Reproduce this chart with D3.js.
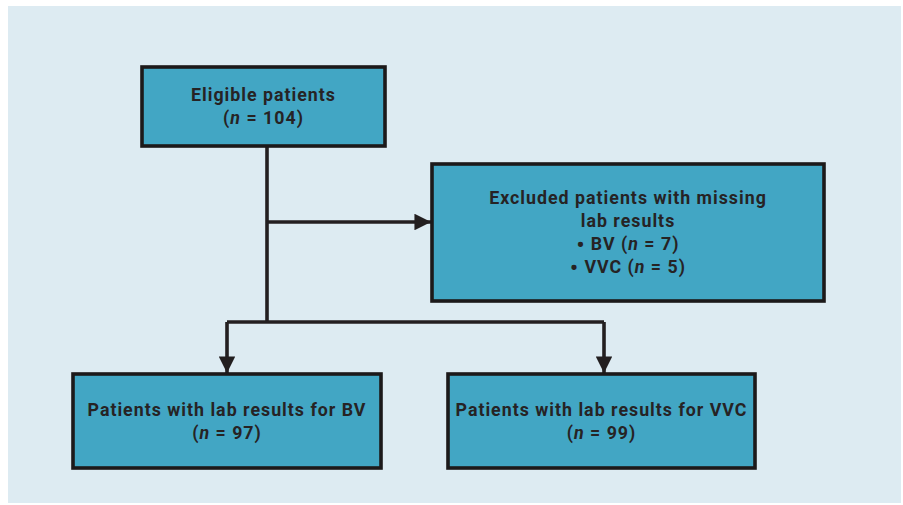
<!DOCTYPE html>
<html>
<head>
<meta charset="utf-8">
<script src="https://cdn.jsdelivr.net/npm/d3@7"></script>
<style>
  body { margin: 0; background: #ffffff; }
  svg text { font-family: Roboto, "DejaVu Sans", sans-serif; font-weight: 700; fill: #262324; letter-spacing: 1px; }
</style>
</head>
<body>
<div id="chart"></div>
<script>
// flowchart content
const nodeIds = ["eligible", "excluded", "bv", "vvc"];
const nodeTitles = [
    ["Eligible patients"],
    ["Excluded patients with missing", "lab results"],
    ["Patients with lab results for BV"],
    ["Patients with lab results for VVC"]
];
const nodeCounts = [104, null, 97, 99];
const excludedItems = ["BV", "VVC"];
const excludedCounts = [7, 5];

// layout (px)
const W = 903, H = 505;
const boxes = {
    eligible: { x: 142, y: 67, w: 243, h: 79 },
    excluded: { x: 432, y: 164, w: 392, h: 137 },
    bv:       { x: 73,  y: 374, w: 308, h: 94 },
    vvc:      { x: 448, y: 374, w: 307, h: 94 }
};
const lineH = 23;

const svg = d3.select("#chart")
    .append("svg")
    .attr("width", W)
    .attr("height", H);

// panel background
svg.append("rect")
    .attr("x", 8).attr("y", 6)
    .attr("width", 893).attr("height", 497)
    .attr("fill", "#ddebf2");

svg.append("defs").append("marker")
    .attr("id", "arrow")
    .attr("viewBox", "0 0 10 10")
    .attr("refX", 10).attr("refY", 5)
    .attr("markerWidth", 4.6).attr("markerHeight", 4.6)
    .attr("orient", "auto")
    .attr("markerUnits", "strokeWidth")
    .append("path")
    .attr("d", "M0,0 L10,5 L0,10 Z")
    .attr("fill", "#231f20");

// connectors
const trunkX = 267;
const splitY = 322;
const branchY = 222;
const bvX = 227, vvcX = 604;
const line = d3.line();

const connectors = svg.append("g")
    .attr("fill", "none")
    .attr("stroke", "#231f20")
    .attr("stroke-width", 3.6);

connectors.append("path")
    .attr("d", line([[trunkX, boxes.eligible.y + boxes.eligible.h], [trunkX, splitY]]));
connectors.append("path")
    .attr("d", line([[trunkX, branchY], [boxes.excluded.x - 1, branchY]]))
    .attr("marker-end", "url(#arrow)");
connectors.append("path")
    .attr("d", line([[bvX, splitY], [vvcX, splitY]]));
connectors.append("path")
    .attr("d", line([[bvX, splitY], [bvX, boxes.bv.y - 1]]))
    .attr("marker-end", "url(#arrow)");
connectors.append("path")
    .attr("d", line([[vvcX, splitY], [vvcX, boxes.vvc.y - 1]]))
    .attr("marker-end", "url(#arrow)");

// boxes
const nodes = nodeIds.map((id, i) => ({ id, title: nodeTitles[i], n: nodeCounts[i], ...boxes[id] }));

const g = svg.selectAll(".node")
    .data(nodes)
    .enter().append("g")
    .attr("class", "node");

g.append("rect")
    .attr("x", d => d.x).attr("y", d => d.y)
    .attr("width", d => d.w).attr("height", d => d.h)
    .attr("fill", "#42a6c4")
    .attr("stroke", "#1c191a")
    .attr("stroke-width", 3.6);

function addCount(text, item, n) {
    if (item) {
        text.append("tspan").style("font-size", "22px").attr("dy", "2").text("\u2022");
        text.append("tspan").attr("dy", "-2").text(` ${item} `);
    }
    text.append("tspan").text("(");
    text.append("tspan").attr("font-style", "italic").text("n");
    text.append("tspan").text(` = ${n})`);
}

g.each(function(d) {
    const sel = d3.select(this);
    const lines = d.title.map(t => ({ kind: "t", t }));
    if (d.n != null) lines.push({ kind: "n", n: d.n });
    if (d.id === "excluded") {
        excludedItems.forEach((it, k) => lines.push({ kind: "item", t: it, n: excludedCounts[k] }));
    }
    const cx = d.x + d.w / 2;
    const firstBase = d.y + d.h / 2 - (lines.length - 1) * lineH / 2 + 6;
    lines.forEach((l, k) => {
        const text = sel.append("text")
            .attr("x", cx)
            .attr("y", firstBase + k * lineH)
            .attr("text-anchor", "middle")
            .style("font-size", "17.8px");
        if (l.kind === "t") text.text(l.t);
        else if (l.kind === "n") addCount(text, null, l.n);
        else addCount(text, l.t, l.n);
    });
});
</script>
</body>
</html>
